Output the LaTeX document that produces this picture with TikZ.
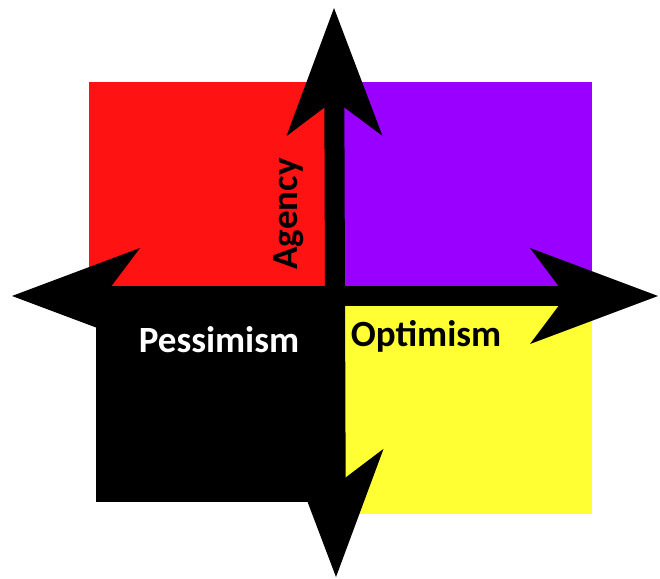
\documentclass[tikz,border=0pt]{standalone}
\usepackage{fontspec}
\setmainfont{Carlito}
\usetikzlibrary{arrows.meta}
\definecolor{quadred}{RGB}{255,18,18}
\definecolor{quadpurple}{RGB}{153,0,255}
\definecolor{quadyellow}{RGB}{255,255,51}

\begin{document}
\begin{tikzpicture}[
        x=1pt, y=1pt,
        % the two axes
        axis/.style={<->, >={Stealth[length=128pt, width=96pt, inset=36pt, line width=0pt]}, line width=20pt, black},
        % quadrant labels
        quadlabel/.style={font=\fontsize{37}{40}\selectfont\bfseries, inner sep=0pt}
    ]
    \useasboundingbox (0,0) rectangle (660,578);

    % quadrants
    \fill[quadred] (89,282) rectangle (334,496);
    \fill[quadpurple] (334,282) rectangle (592,496);
    \fill[black] (96,76) rectangle (334,282);
    \fill[quadyellow] (334,64) rectangle (592,282);

    % axis end points
    \coordinate (west) at (12,282);
    \coordinate (east) at (658,282);
    \coordinate (north) at (334,570);
    \coordinate (south) at (336,1);

    % axes
    \draw[axis] (west) -- (east);
    \draw[axis] (south) -- (north);

    % labels
    \node[quadlabel, rotate=90] (agency) at (289,364) {Agency};
    \node[quadlabel, white, anchor=base] (pessimism) at (219,225) {Pessimism};
    \node[quadlabel, anchor=base] (optimism) at (426,231) {Optimism};

\end{tikzpicture}
\end{document}
